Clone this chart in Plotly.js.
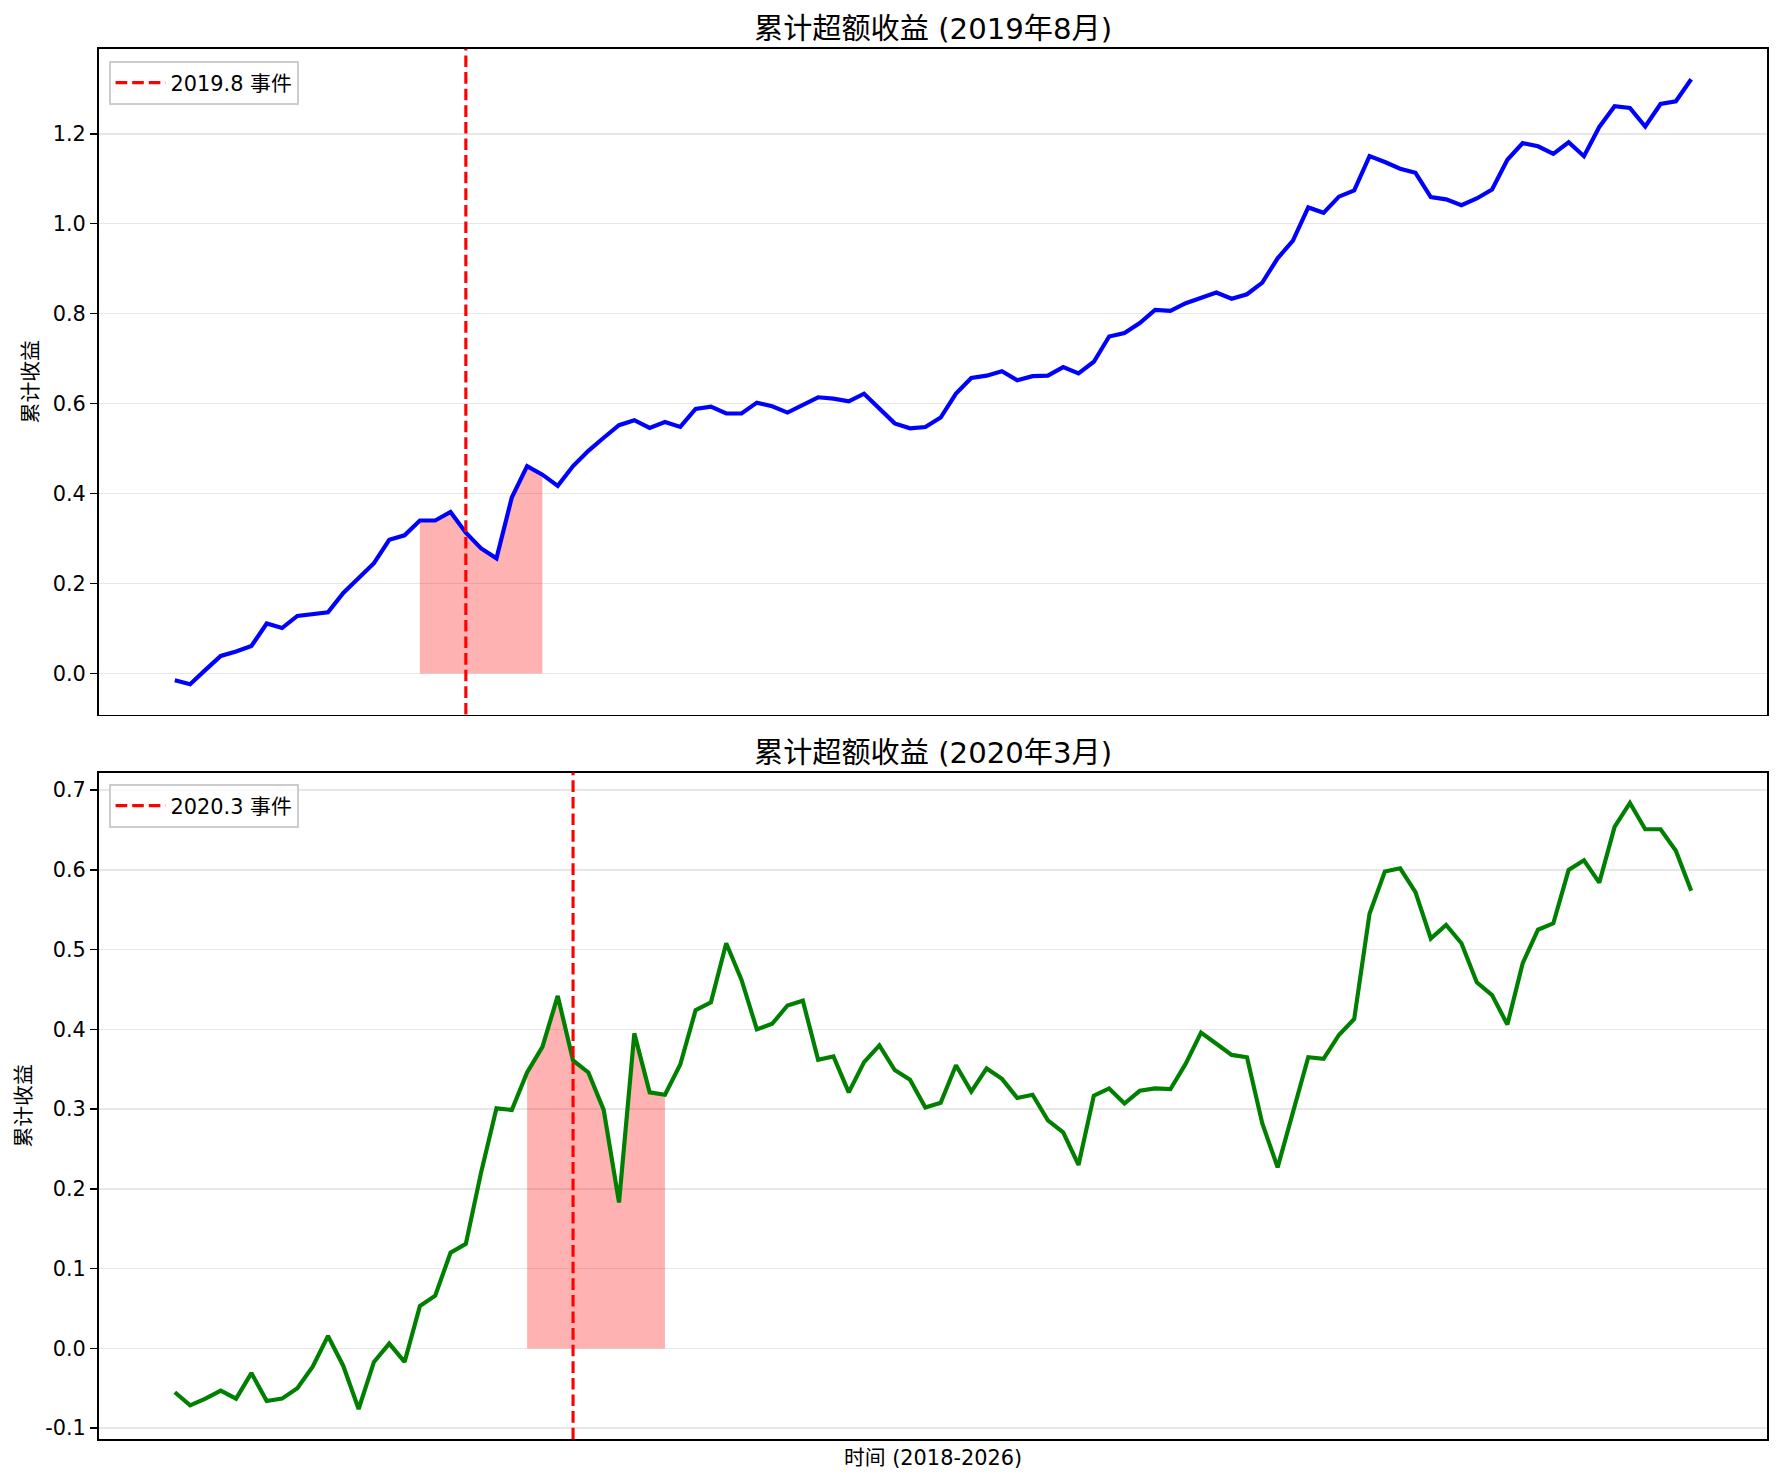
<!DOCTYPE html>
<html>
<head>
<meta charset="utf-8">
<script src="https://cdn.plot.ly/plotly-3.0.1.min.js"></script>
<style>html,body{margin:0;padding:0;background:#fff;}#chart{width:1784px;height:1483px;}</style>
</head>
<body>
<div id="chart"></div>
<script>
// ---- data (monthly points, 2018-01 .. 2026-04) ----
const topTitle = "累计超额收益 (2019年8月)";
const bottomTitle = "累计超额收益 (2020年3月)";
const yLabel = "累计收益";
const xLabel = "时间 (2018-2026)";
const topEventName = "2019.8 事件";
const bottomEventName = "2020.3 事件";

const topValues = [
  -0.015, -0.024, 0.008, 0.039, 0.049, 0.061, 0.111, 0.101, 0.128, 0.132,
  0.136, 0.179, 0.211, 0.245, 0.297, 0.307, 0.340, 0.340, 0.359, 0.313,
  0.278, 0.256, 0.391, 0.461, 0.442, 0.417, 0.461, 0.495, 0.524, 0.552,
  0.563, 0.546, 0.559, 0.548, 0.588, 0.593, 0.578, 0.578, 0.602, 0.594,
  0.580, 0.596, 0.614, 0.611, 0.605, 0.622, 0.589, 0.556, 0.545, 0.548,
  0.569, 0.622, 0.657, 0.662, 0.672, 0.652, 0.661, 0.662, 0.681, 0.667,
  0.693, 0.749, 0.757, 0.779, 0.808, 0.806, 0.823, 0.834, 0.847, 0.833,
  0.843, 0.869, 0.923, 0.962, 1.036, 1.024, 1.060, 1.074, 1.150, 1.137,
  1.122, 1.113, 1.059, 1.054, 1.041, 1.056, 1.076, 1.142, 1.179, 1.172,
  1.155, 1.181, 1.150, 1.215, 1.261, 1.257, 1.216, 1.266, 1.272, 1.321
];
const bottomValues = [
  -0.055, -0.0715, -0.063, -0.053, -0.063, -0.031, -0.066, -0.063, -0.050, -0.023,
  0.0155, -0.022, -0.076, -0.017, 0.006, -0.017, 0.053, 0.066, 0.120, 0.131,
  0.221, 0.301, 0.299, 0.346, 0.378, 0.442, 0.361, 0.346, 0.299, 0.183,
  0.395, 0.321, 0.318, 0.356, 0.424, 0.434, 0.508, 0.462, 0.400, 0.407,
  0.430, 0.436, 0.362, 0.366, 0.321, 0.359, 0.380, 0.349, 0.337, 0.302,
  0.308, 0.355, 0.322, 0.351, 0.338, 0.314, 0.318, 0.286, 0.271, 0.230,
  0.317, 0.326, 0.307, 0.323, 0.326, 0.325, 0.357, 0.396, 0.382, 0.368,
  0.365, 0.282, 0.227, 0.294, 0.365, 0.363, 0.393, 0.413, 0.545, 0.598,
  0.602, 0.572, 0.514, 0.531, 0.508, 0.459, 0.443, 0.406, 0.483, 0.525,
  0.533, 0.600, 0.612, 0.584, 0.654, 0.684, 0.651, 0.651, 0.624, 0.574
];
// event month index and shaded window (month indices)
const topEvent = 19, topWindow = [16, 24];
const bottomEvent = 26, bottomWindow = [23, 32];
const topTicks = [0.0, 0.2, 0.4, 0.6, 0.8, 1.0, 1.2];
const bottomTicks = [-0.1, 0.0, 0.1, 0.2, 0.3, 0.4, 0.5, 0.6, 0.7];

// ---- build ----
const monthIdx = topValues.map((_, i) => i);
const FONT = "DejaVu Sans, Noto Sans CJK SC, sans-serif";
const PT = 150 / 72;

function pad(arr) {
  const lo = Math.min(...arr), hi = Math.max(...arr), m = (hi - lo) * 0.05;
  return [lo - m, hi + m];
}
function slice(vals, w) {
  const xs = [], ys = [];
  for (let i = w[0]; i <= w[1]; i++) { xs.push(monthIdx[i]); ys.push(vals[i]); }
  return {xs, ys};
}
const dash = (5.55 * PT).toFixed(1) + "px," + (2.4 * PT).toFixed(1) + "px";

const ts = slice(topValues, topWindow);
const bs = slice(bottomValues, bottomWindow);

const traces = [
  {x: ts.xs, y: ts.ys, xaxis: 'x', yaxis: 'y', type: 'scatter', mode: 'lines', fill: 'tozeroy',
   fillcolor: 'rgba(255,0,0,0.3)', line: {color: 'rgba(255,0,0,0.3)', width: 1}, showlegend: false, hoverinfo: 'skip'},
  {x: monthIdx, y: topValues, xaxis: 'x', yaxis: 'y', type: 'scatter', mode: 'lines',
   line: {color: '#0000ff', width: 2 * PT}, showlegend: false},
  {x: [null], y: [null], xaxis: 'x', yaxis: 'y', type: 'scatter', mode: 'lines', name: topEventName,
   line: {color: '#ff0000', width: 1.5 * PT, dash: dash}, legend: 'legend', showlegend: true},
  {x: bs.xs, y: bs.ys, xaxis: 'x2', yaxis: 'y2', type: 'scatter', mode: 'lines', fill: 'tozeroy',
   fillcolor: 'rgba(255,0,0,0.3)', line: {color: 'rgba(255,0,0,0.3)', width: 1}, showlegend: false, hoverinfo: 'skip'},
  {x: monthIdx, y: bottomValues, xaxis: 'x2', yaxis: 'y2', type: 'scatter', mode: 'lines',
   line: {color: '#008000', width: 2 * PT}, showlegend: false},
  {x: [null], y: [null], xaxis: 'x2', yaxis: 'y2', type: 'scatter', mode: 'lines', name: bottomEventName,
   line: {color: '#ff0000', width: 1.5 * PT, dash: dash}, legend: 'legend2', showlegend: true}
];

const W = 1784, H = 1483;
const xDom = [99 / W, 1767 / W];
const topDom = [1 - 714.5 / H, 1 - 49 / H];
const botDom = [1 - 1439.3 / H, 1 - 772.6 / H];
const xr = [-(monthIdx.length - 1) * 0.05, (monthIdx.length - 1) * 1.05];

const tickFont = {family: FONT, size: 10 * PT, color: '#000'};
function yAxis(dom, vals, anchor) {
  return {
    domain: dom, anchor: anchor, range: pad(vals === 'top' ? topValues : bottomValues),
    tickvals: vals === 'top' ? topTicks : bottomTicks,
    ticktext: (vals === 'top' ? topTicks : bottomTicks).map(v => v.toFixed(1)),
    ticks: 'outside', ticklen: 3.5 * PT, tickwidth: 0.8 * PT, tickcolor: '#000',
    tickfont: tickFont, showline: true, mirror: true, linecolor: '#000', linewidth: 0.8 * PT,
    showgrid: true, gridcolor: '#e7e7e7', gridwidth: 0.8 * PT, zeroline: false,
    title: {text: yLabel, font: {family: FONT, size: 10 * PT, color: '#000'}, standoff: 8}
  };
}
function xAxis(dom, anchor, title) {
  const a = {
    domain: dom, anchor: anchor, range: xr, showticklabels: false, ticks: '',
    showline: true, mirror: true, linecolor: '#000', linewidth: 0.8 * PT,
    showgrid: false, zeroline: false
  };
  if (title) a.title = {text: title, font: {family: FONT, size: 10 * PT, color: '#000'}, standoff: 10};
  return a;
}
const legendStyle = (y) => ({
  x: 109 / W, y: y, xanchor: 'left', yanchor: 'top', xref: 'paper', yref: 'paper',
  bgcolor: 'rgba(255,255,255,0.8)', bordercolor: '#cccccc', borderwidth: 1.6,
  itemwidth: 50,
  font: {family: FONT, size: 10 * PT, color: '#000'}
});

const layout = {
  width: W, height: H, margin: {l: 0, r: 0, t: 0, b: 0},
  paper_bgcolor: '#fff', plot_bgcolor: '#fff',
  xaxis: xAxis(xDom, 'y'), yaxis: yAxis(topDom, 'top', 'x'),
  xaxis2: xAxis(xDom, 'y2', xLabel), yaxis2: yAxis(botDom, 'bottom', 'x2'),
  legend: legendStyle(1 - 61 / H),
  legend2: legendStyle(1 - 784 / H),
  shapes: [
    {type: 'line', xref: 'x', yref: 'y domain', x0: topEvent, x1: topEvent, y0: 0, y1: 1,
     line: {color: '#ff0000', width: 1.5 * PT, dash: dash}},
    {type: 'line', xref: 'x2', yref: 'y2 domain', x0: bottomEvent, x1: bottomEvent, y0: 0, y1: 1,
     line: {color: '#ff0000', width: 1.5 * PT, dash: dash}}
  ],
  annotations: [
    {text: topTitle, xref: 'paper', yref: 'paper', x: (xDom[0] + xDom[1]) / 2, y: topDom[1],
     xanchor: 'center', yanchor: 'bottom', yshift: 1, showarrow: false,
     font: {family: FONT, size: 14 * PT, color: '#000'}},
    {text: bottomTitle, xref: 'paper', yref: 'paper', x: (xDom[0] + xDom[1]) / 2, y: botDom[1],
     xanchor: 'center', yanchor: 'bottom', yshift: 1, showarrow: false,
     font: {family: FONT, size: 14 * PT, color: '#000'}}
  ]
};

Plotly.newPlot('chart', traces, layout, {staticPlot: true, displayModeBar: false});
</script>
</body>
</html>
